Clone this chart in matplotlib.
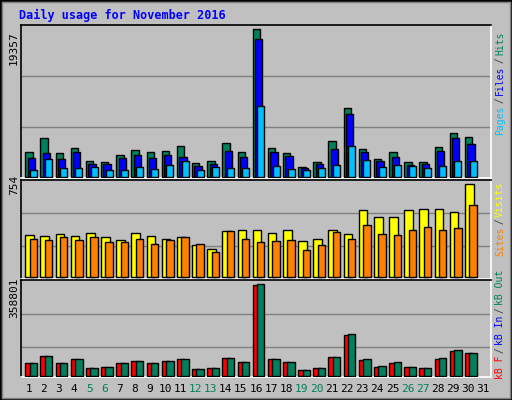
import matplotlib
matplotlib.use("Agg")
import matplotlib.pyplot as plt
from matplotlib.patches import Rectangle

days = list(range(1, 32))
weekend = [5, 6, 12, 13, 19, 20, 26, 27]
hits = [3197,5036,3065,3722,2014,1883,2803,3460,3197,3328,3985,1752,2014,4379,3197,19357,3722,3065,1226,1883,4642,8977,3591,2277,3197,1883,1883,3854,5693,5167]
files = [2409,3065,2277,3197,1620,1620,2409,2803,2409,2803,2540,1358,1620,3328,2540,18042,3197,2671,1095,1620,3591,8189,3197,2014,2540,1489,1620,3328,5036,4248]
pages = [832,2277,1095,1095,1226,832,832,1226,963,1489,2014,832,1226,1095,1095,9240,1358,963,832,1095,1489,3985,2146,1226,1489,1358,1095,1358,2014,2014]
visits = [336,328,344,328,352,320,295,352,328,311,320,254,229,369,377,377,352,377,287,311,377,344,541,484,484,541,549,549,525,754]
sites = [303,295,320,295,320,279,279,303,270,295,320,270,197,369,311,279,287,295,213,254,361,311,418,344,336,377,402,377,393,582]
kbf = [52380,79880,52380,68090,32740,36670,52380,60240,52380,60240,68090,28810,32740,72020,56310,354870,68090,56310,24880,32740,75950,162380,64170,36670,52380,36670,32740,68090,99520,91670]
kbout = [52380,79880,52380,68090,32740,36670,52380,60240,52380,60240,68090,28810,32740,72020,56310,358801,68090,56310,24880,32740,75950,166310,68090,40600,56310,36670,32740,72020,103450,91670]

W, H = 512, 400
fig = plt.figure(figsize=(W/100, H/100), dpi=100)
fig.patch.set_facecolor("#C0C0C0")
mono = "DejaVu Sans Mono"

def ax_px(x0, y0, x1, y1):
    a = fig.add_axes([x0/W, 1-y1/H, (x1-x0)/W, (y1-y0)/H])
    a.set_facecolor("#C0C0C0")
    a.set_xlim(1, 32)
    a.set_xticks([]); a.set_yticks([])
    for s in ["top", "left"]:
        a.spines[s].set_color("black")
    for s in ["bottom", "right"]:
        a.spines[s].set_color("white")
    for s in a.spines.values():
        s.set_linewidth(1.2)
    return a

def bars(a, vals, off, w, color):
    a.bar([d + off for d in days[:len(vals)]], vals, width=w, align="edge",
          color=color, edgecolor="black", linewidth=1, zorder=3)

fig.add_artist(Rectangle((0, 0), 1, 1, transform=fig.transFigure, fill=False, edgecolor="black", linewidth=2))
fig.add_artist(Rectangle((2/W, 2/H), 1-4/W, 1-4/H, transform=fig.transFigure, fill=False, edgecolor="#808080", linewidth=1))

a1 = ax_px(21, 25, 491, 178)
a1.set_ylim(-170, 19357*151.4/147.4)
for g in [6527, 13224]:
    a1.axhline(g, color="#808080", lw=1, zorder=1)
bars(a1, hits, 0.28, 0.49, "#00805C")
bars(a1, files, 0.44, 0.48, "#0000FF")
bars(a1, pages, 0.59, 0.46, "#00C0FF")

a2 = ax_px(21, 180, 491, 279)
a2.set_ylim(-20, 754*96.3/92)
for g in [246, 516]:
    a2.axhline(g, color="#808080", lw=1, zorder=1)
bars(a2, visits, 0.28, 0.57, "#FFFF00")
bars(a2, sites, 0.57, 0.49, "#FF8000")

a3 = ax_px(21, 280, 491, 377)
a3.set_ylim(-2000, 358801*95.7/91.4)
for g in [115000, 245000]:
    a3.axhline(g, color="#808080", lw=1, zorder=1)
bars(a3, kbf, 0.28, 0.49, "#FF0000")
bars(a3, kbout, 0.57, 0.49, "#00805C")

fig.text(19/W, 1-15/H, "Daily usage for November 2016", color="#0000FF", fontsize=8.5,
         fontweight="bold", family=mono, va="center", ha="left")
for y, t in [(48, "19357"), (185, "754"), (298, "358801")]:
    fig.text(14/W, 1-y/H, t, rotation=90, fontsize=8, family=mono, ha="center", va="center")

def side(ycenter, parts):
    n = sum(len(p[0]) for p in parts)
    step = 5.0
    y = ycenter + n*step/2
    for txt, col in parts:
        L = len(txt)
        fig.text(500/W, 1-(y - L*step/2)/H, txt, rotation=90, color=col, fontsize=7,
                 family=mono, ha="center", va="center")
        y -= L*step

side(83, [("Pages", "#00C0FF"), (" / ", "#404040"), ("Files", "#0000FF"), (" / ", "#404040"), ("Hits", "#00805C")])
side(219, [("Sites", "#FF8000"), (" / ", "#404040"), ("Visits", "#FFFF00")])
side(325, [("kB F", "#FF0000"), (" / ", "#404040"), ("kB In", "#0000FF"), (" / ", "#404040"), ("kB Out", "#00805C")])

for d in days:
    x = 21 + (d - 0.5) * (470/31)
    fig.text(x/W, 1-389/H, str(d), fontsize=8, family=mono, ha="center", va="center",
             color="#00805C" if d in weekend else "black")

fig.savefig("out.png", dpi=100, facecolor=fig.get_facecolor())
